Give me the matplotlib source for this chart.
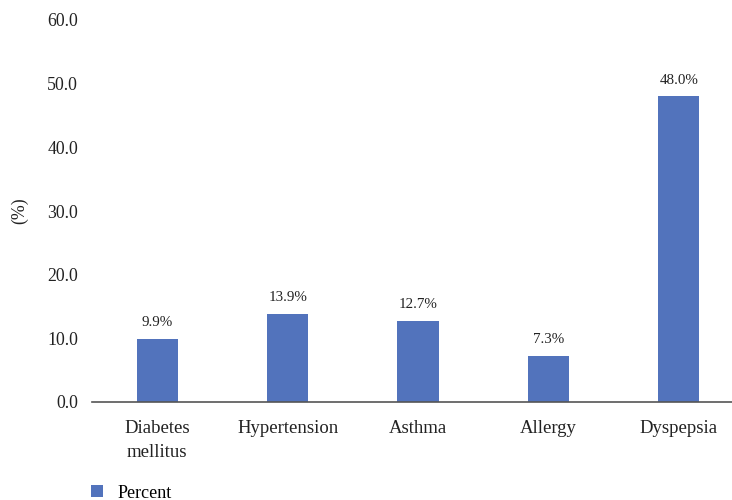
import matplotlib
matplotlib.use("Agg")
import matplotlib.pyplot as plt
from matplotlib.patches import Patch

categories = ["Diabetes\nmellitus", "Hypertension", "Asthma", "Allergy", "Dyspepsia"]
percent = [9.9, 13.9, 12.7, 7.3, 48.0]
yticks = [0, 10, 20, 30, 40, 50, 60]

plt.rcParams["font.family"] = ["Liberation Serif", "DejaVu Serif"]

W, H = 732, 500
fig = plt.figure(figsize=(W / 100, H / 100), dpi=100)
left, right = 92, 744
bottom, top = 402, 20
ax = fig.add_axes([left / W, 1 - bottom / H, (right - left) / W, (bottom - top) / H])

color = "#5273BC"
x = list(range(len(categories)))
bars = ax.bar(x, percent, width=0.315, color=color, zorder=2)

for xi, v in zip(x, percent):
    ax.annotate(f"{v:.1f}%", (xi, v), xytext=(0, 7), textcoords="offset points",
                ha="center", va="bottom", fontsize=10.8, color="#222222")

ax.set_xlim(-0.5, len(categories) - 0.5)
ax.set_ylim(0, 60)
ax.set_yticks(yticks)
ax.set_yticklabels([f"{t:.1f}" for t in yticks], fontsize=12.8, color="#222222")
ax.set_xticks(x)
ax.set_xticklabels(categories, fontsize=13.5, color="#222222", linespacing=1.55)
ax.tick_params(axis="both", length=0)
ax.tick_params(axis="y", pad=10)
ax.tick_params(axis="x", pad=13)

for s in ["top", "right", "left"]:
    ax.spines[s].set_visible(False)
ax.spines["bottom"].set_color("#555555")
ax.spines["bottom"].set_linewidth(1.2)
ax.spines["bottom"].set_zorder(3)

ax.set_ylabel("(%)", fontsize=12.8, color="#222222", labelpad=14)

fig.legend(handles=[Patch(facecolor=color, label="Percent")], loc="center left",
           bbox_to_anchor=(91 / W, 1 - 493 / H), frameon=False, fontsize=13,
           handlelength=0.65, handleheight=0.65, handletextpad=0.8,
           borderaxespad=0, borderpad=0)

fig.savefig("out.png", dpi=100)
